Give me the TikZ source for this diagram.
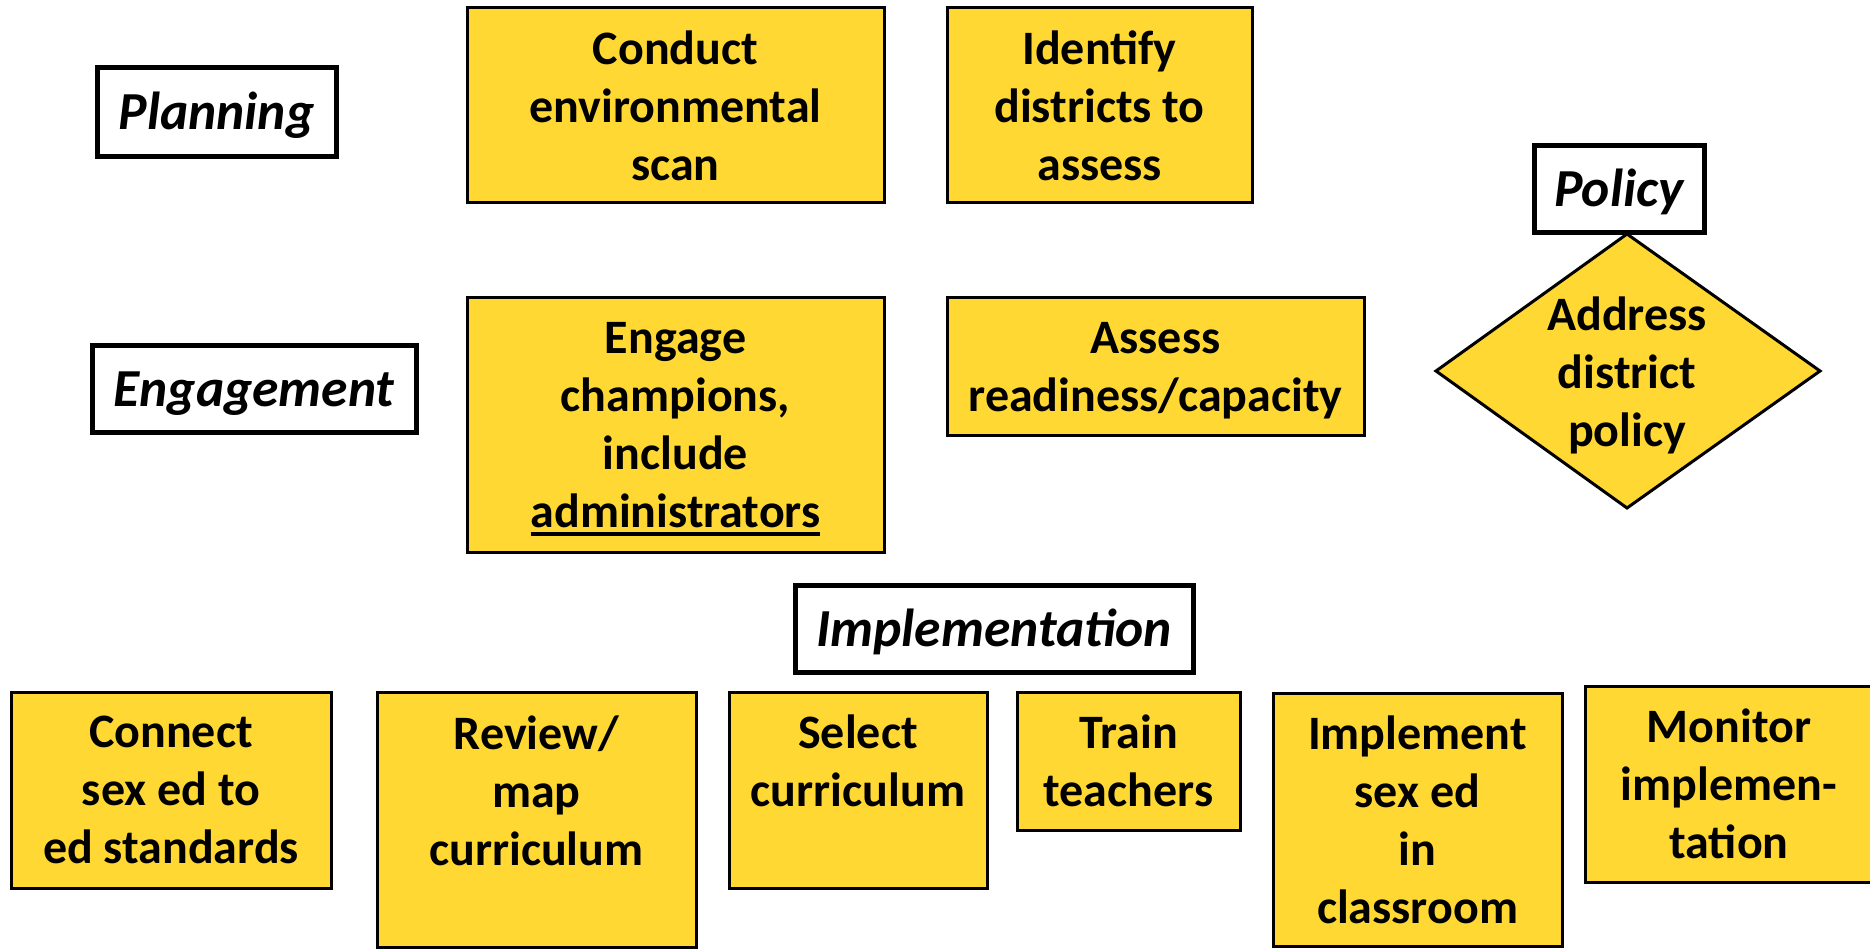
\documentclass[tikz,border=0pt]{standalone}
\usepackage{fontspec}
\setmainfont{Carlito}
\definecolor{gold}{RGB}{255,216,51}
\newcommand\thickul[1]{\setbox0\hbox{#1}\rlap{\smash{\rule[-8.5pt]{\wd0}{4pt}}}\box0}
\tikzset{
  tasktext/.style={inner sep=0pt, align=center,
    font=\bfseries\fontsize{48}{58}\selectfont},
  task/.style={tasktext, draw=black, line width=3pt, fill=gold},
  phase/.style={draw=black, line width=5pt, fill=white, inner sep=0pt, align=center,
    text height=42pt, text depth=7pt,
    font=\bfseries\itshape\fontsize{53.5}{60}\selectfont},
}
\begin{document}
\begin{tikzpicture}[x=1pt,y=-1pt]
\useasboundingbox (0,0) rectangle (1870,949);
\clip (0,0) rectangle (1870,949);
% phase labels
\node[phase, minimum width=239pt, minimum height=89pt] (planning) at (216.5,112.5) {Planning};
\node[phase, minimum width=324pt, minimum height=87pt] (engagement) at (254,389) {Engagement};
\node[phase, minimum width=170pt, minimum height=87pt] (policy) at (1619,189.5) {Policy};
\node[phase, minimum width=398pt, minimum height=87pt] (implementation) at (994,628.5) {Implementation};
% planning tasks
\node[task, minimum width=417pt, minimum height=195pt] (conduct) at (675.5,105.5) {Conduct\\environmental\\scan};
\node[task, minimum width=305pt, minimum height=195pt] (identify) at (1099.5,105.5) {Identify\\districts to\\assess};
% engagement tasks
\node[task, minimum width=417pt, minimum height=254pt] (engage) at (675.5,425) {Engage\\champions,\\include\\\thickul{administrators}};
\node[task, minimum width=417pt, minimum height=137pt] (assess) at (1155.5,366.5) {Assess\\\smash{readiness/capacity}};
% policy diamond
\coordinate (dl) at (1436,371);
\coordinate (dt) at (1627,234);
\coordinate (dr) at (1820,371);
\coordinate (db) at (1627,508);
\draw[line width=3pt, fill=gold, line join=miter] (dl) -- (dt) -- (dr) -- (db) -- cycle;
\node[tasktext] (address) at (1627,372) {Address\\district\\\smash{policy}};
% implementation tasks
\node[task, minimum width=320pt, minimum height=196pt] (connect) at (171,790) {Connect\\sex ed to\\ed standards};
\node[task, minimum width=319pt, minimum height=255pt] (review) at (536.5,819.5) {Review/\\map\\curriculum\\\mbox{}};
\node[task, minimum width=258pt, minimum height=196pt] (select) at (858,790) {Select\\curriculum\\\mbox{}};
\node[task, minimum width=223pt, minimum height=138pt] (train) at (1128.5,761) {Train\\teachers};
\node[task, minimum width=289pt, minimum height=253pt] (implement) at (1417.5,819.5) {Implement\\sex ed\\in\\classroom};
\node[task, minimum width=288pt, minimum height=196pt] (monitor) at (1729,784) {Monitor\\implemen-\\tation};
\end{tikzpicture}
\end{document}
